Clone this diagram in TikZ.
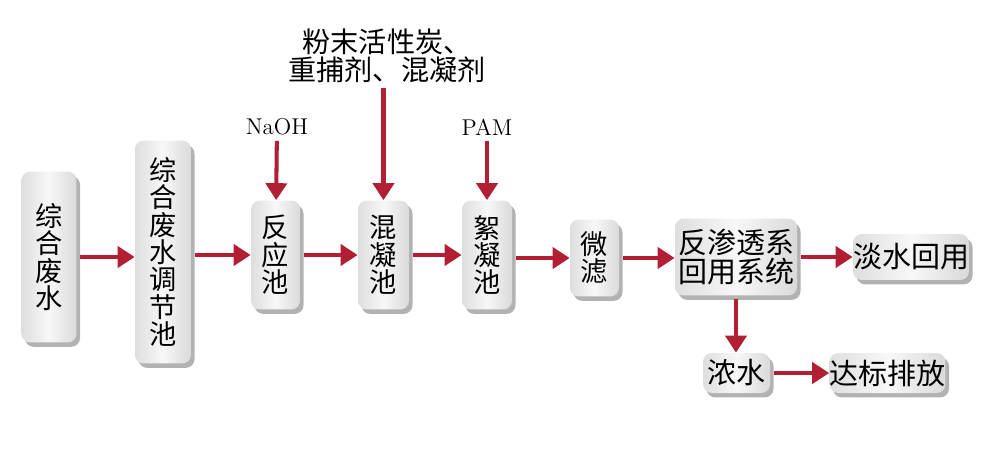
\documentclass[tikz,border=0pt]{standalone}
\usepackage{fontspec}
\newfontfamily\cjk{Noto Sans CJK SC}
\usetikzlibrary{arrows.meta,shadows}

\definecolor{flowred}{RGB}{178,30,52}
\pgfdeclarehorizontalshading{boxshade}{100bp}{color(0bp)=(black!42); color(22bp)=(black!14);
  color(50bp)=(black!3); color(78bp)=(black!16); color(100bp)=(black!48)}

\begin{document}
\begin{tikzpicture}[x=0.02cm, y=-0.02cm]
    \tikzstyle{box}=[rectangle, rounded corners=5pt, inner sep=0pt, align=center,
      drop shadow={shadow xshift=2pt, shadow yshift=-2.5pt, fill=black!60},
      shading=boxshade, shading angle=0,
      font=\cjk\fontsize{15.5}{15.6}\selectfont]
    \tikzstyle{chem}=[inner sep=1pt, align=center]
    \tikzstyle{flow}=[line width=2.3pt, draw=flowred,
      -{Triangle[length=0.34cm, width=0.42cm]}, shorten <=2pt]

    \useasboundingbox (0,0) rectangle (1000,453);

    % main line
    \node[box, minimum width=1.1cm, minimum height=3.42cm] (raw) at (49,257) {综\\合\\废\\水};
    \node[box, minimum width=1.12cm, minimum height=4.46cm] (tank) at (163,252) {综\\合\\废\\水\\调\\节\\池};
    \node[box, minimum width=0.98cm, minimum height=2.18cm] (react) at (275.5,255) {反\\应\\池};
    \node[box, minimum width=1.02cm, minimum height=2.18cm] (coag) at (383.5,255) {混\\凝\\池};
    \node[box, minimum width=1.0cm, minimum height=2.18cm] (floc) at (487,255) {絮\\凝\\池};
    \node[box, minimum width=0.98cm, minimum height=1.54cm] (mf) at (594.5,258) {微\\滤};
    \node[box, minimum width=2.44cm, minimum height=1.54cm, font=\cjk\fontsize{16.5}{14.5}\selectfont] (ro) at (736,257) {反渗透系\\回用系统};
    \node[box, minimum width=2.16cm, minimum height=0.92cm, font=\cjk\fontsize{16.5}{16.5}\selectfont] (reuse) at (911,257) {淡水回用};

    % concentrate
    \node[box, minimum width=1.34cm, minimum height=0.8cm, font=\cjk\fontsize{16.5}{16.5}\selectfont] (brine) at (736.5,373) {浓水};
    \node[box, minimum width=2.3cm, minimum height=0.8cm, font=\cjk\fontsize{16.5}{16.5}\selectfont] (dis) at (887.5,373) {达标排放};

    % dosing
    \node[chem, font=\fontsize{13}{13}\selectfont] (naoh) at (277,127) {NaOH};
    \node[chem, font=\cjk\fontsize{16}{14.5}\selectfont] (pac) at (387,56) {粉末活性炭、\\重捕剂、混凝剂};
    \node[chem, font=\fontsize{13}{13}\selectfont] (pam) at (487,127) {PAM};

    \draw[flow] (raw) -- (raw -| tank.west);
    \draw[flow] (tank.east |- react) -- (react);
    \draw[flow] (react) -- (coag);
    \draw[flow] (coag) -- (floc);
    \draw[flow] (floc.east |- mf) -- (mf);
    \draw[flow] (mf) -- (ro.west |- mf);
    \draw[flow] (ro) -- (reuse);
    \draw[flow] (naoh) -- (react);
    \draw[flow] (pac.south -| coag) -- (coag);
    \draw[flow] (pam) -- (floc);
    \draw[flow] (ro.south) -- (ro.south |- brine.north);
    \draw[flow] (brine) -- (dis);
\end{tikzpicture}
\end{document}
